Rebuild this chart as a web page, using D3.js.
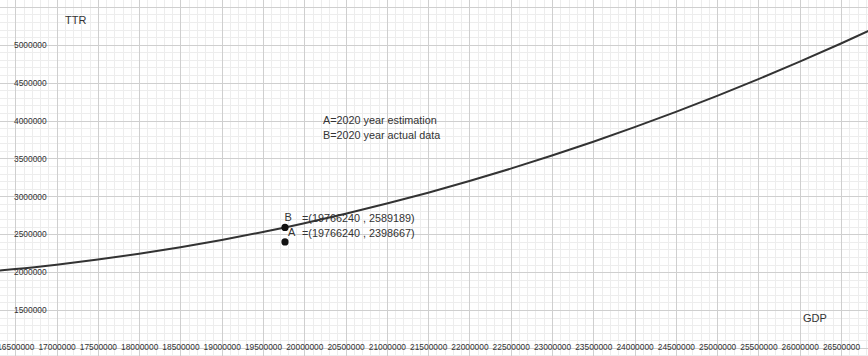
<!DOCTYPE html>
<html>
<head>
<meta charset="utf-8">
<script src="https://cdn.jsdelivr.net/npm/d3@7"></script>
<style>
  html, body { margin: 0; padding: 0; background: #fff; }
  svg { display: block; }
  text { font-family: "Liberation Sans", Arial, sans-serif; fill: #333; }
</style>
</head>
<body>
<svg id="chart" width="868" height="356"></svg>
<script>
// GDP (x) and TTR (y) tick values
const gdpTicks = [16500000, 17000000, 17500000, 18000000, 18500000, 19000000, 19500000,
  20000000, 20500000, 21000000, 21500000, 22000000, 22500000, 23000000, 23500000,
  24000000, 24500000, 25000000, 25500000, 26000000, 26500000];
const ttrTicks = [1500000, 2000000, 2500000, 3000000, 3500000, 4000000, 4500000, 5000000];

// Fitted TTR curve sampled along GDP
const curveGDP = [16300000, 16500000, 17000000, 17500000, 18000000, 18500000, 19000000,
  19500000, 19766240, 20000000, 20500000, 21000000, 21500000, 22000000, 22500000,
  23000000, 23500000, 24000000, 24500000, 25000000, 25500000, 26000000, 26500000, 26850000];
const curveTTR = [2020000, 2040000, 2098000, 2165000, 2242000, 2328000, 2424000,
  2530000, 2589189, 2645000, 2770000, 2904000, 3048000, 3202000, 3365000,
  3538000, 3720000, 3912000, 4114000, 4325000, 4546000, 4776000, 5016000, 5190000];

// Marked points
const pointNames = ["B", "A"];
const pointGDP = [19766240, 19766240];
const pointTTR = [2589189, 2398667];

const legendLines = ["A=2020 year estimation", "B=2020 year actual data"];

const W = 868, H = 356;
const svg = d3.select("#chart");

const x = d3.scaleLinear().domain([16500000, 26500000]).range([15.3, 841.0]);
const y = d3.scaleLinear().domain([1500000, 5000000]).range([310, 44.7]);

const [gx0, gx1] = [x.invert(0), x.invert(W)];
const [gy0, gy1] = [y.invert(H), y.invert(0)];

// minor grid (100000 steps)
const minorX = d3.range(Math.ceil(gx0 / 1e5) * 1e5, gx1, 1e5);
const minorY = d3.range(Math.ceil(gy0 / 1e5) * 1e5, gy1, 1e5);
const grid = svg.append("g").attr("shape-rendering", "crispEdges");
grid.selectAll(".mx").data(minorX).join("line")
  .attr("x1", d => Math.round(x(d)) + 0.5).attr("x2", d => Math.round(x(d)) + 0.5)
  .attr("y1", 0).attr("y2", H).attr("stroke", "#ededed").attr("stroke-width", 1);
grid.selectAll(".my").data(minorY).join("line")
  .attr("y1", d => Math.round(y(d)) + 0.5).attr("y2", d => Math.round(y(d)) + 0.5)
  .attr("x1", 0).attr("x2", W).attr("stroke", "#ededed").attr("stroke-width", 1);

// major grid (500000 steps)
const majorX = d3.range(Math.ceil(gx0 / 5e5) * 5e5, gx1, 5e5);
const majorY = d3.range(Math.ceil(gy0 / 5e5) * 5e5, gy1, 5e5);
grid.selectAll(".Mx").data(majorX).join("line")
  .attr("x1", d => Math.round(x(d)) + 0.5).attr("x2", d => Math.round(x(d)) + 0.5)
  .attr("y1", 0).attr("y2", H).attr("stroke", "#cfcfcf").attr("stroke-width", 1);
grid.selectAll(".My").data(majorY).join("line")
  .attr("y1", d => Math.round(y(d)) + 0.5).attr("y2", d => Math.round(y(d)) + 0.5)
  .attr("x1", 0).attr("x2", W).attr("stroke", "#cfcfcf").attr("stroke-width", 1);

// x tick labels along the bottom edge
const xAxis = svg.append("g").attr("transform", `translate(0,${H - 15})`)
  .call(d3.axisBottom(x).tickValues(gdpTicks).tickSize(0).tickPadding(0).tickFormat(d3.format("d")));
xAxis.select(".domain").remove();
xAxis.selectAll("text").attr("font-size", "8.4px").attr("font-family", "Liberation Sans, Arial, sans-serif")
  .attr("fill", "#333").attr("dy", "0.71em").attr("y", 3);

// y tick labels along the left edge
const yAxis = svg.append("g").attr("transform", "translate(14,0)")
  .call(d3.axisRight(y).tickValues(ttrTicks).tickSize(0).tickPadding(0).tickFormat(d3.format("d")));
yAxis.select(".domain").remove();
yAxis.selectAll("text").attr("font-size", "8.4px").attr("font-family", "Liberation Sans, Arial, sans-serif")
  .attr("fill", "#333").attr("x", 0);

// axis titles
svg.append("text").attr("x", 65).attr("y", 24).attr("font-size", "11px").text("TTR");
svg.append("text").attr("x", 803).attr("y", 322).attr("font-size", "11px").text("GDP");

// curve
const line = d3.line().x(d => x(d[0])).y(d => y(d[1])).curve(d3.curveMonotoneX);
svg.append("path")
  .datum(d3.zip(curveGDP, curveTTR))
  .attr("d", line)
  .attr("fill", "none").attr("stroke", "#333").attr("stroke-width", 2);

// legend text
svg.selectAll(".leg").data(legendLines).join("text")
  .attr("x", 323).attr("y", (d, i) => 124 + i * 14.5)
  .attr("font-size", "10.8px").text(d => d);

// points with labels
const pts = d3.zip(pointNames, pointGDP, pointTTR);
svg.selectAll(".pt").data(pts).join("circle")
  .attr("cx", d => x(d[1])).attr("cy", d => y(d[2])).attr("r", 3.6).attr("fill", "#111");
svg.selectAll(".pn").data(pts).join("text")
  .attr("x", (d, i) => x(d[1]) + (i === 0 ? -0.5 : 3))
  .attr("y", (d, i) => i === 0 ? 221 : 236)
  .attr("font-size", "11px").text(d => d[0]);
svg.selectAll(".pv").data(pts).join("text")
  .attr("x", 302).attr("y", (d, i) => 222 + i * 14.5)
  .attr("font-size", "10.8px").text(d => `=(${d[1]} , ${d[2]})`);
</script>
</body>
</html>
